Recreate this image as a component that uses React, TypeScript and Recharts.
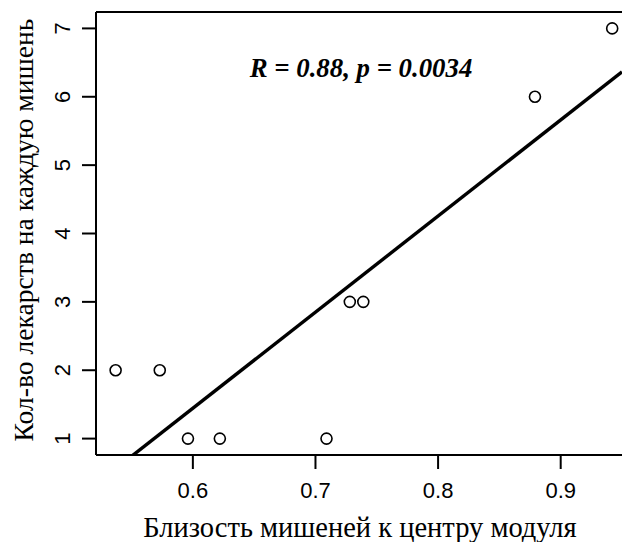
import React from "react";
import {
  ComposedChart,
  Scatter,
  Line,
  XAxis,
  YAxis,
  ReferenceLine,
  Label,
  Customized,
} from "recharts";

// Data
const closeness = [0.537, 0.573, 0.596, 0.622, 0.709, 0.728, 0.739, 0.879, 0.942];
const drugCount = [2, 2, 1, 1, 1, 3, 3, 6, 7];
const xTicks = [0.6, 0.7, 0.8, 0.9];
const yTicks = [1, 2, 3, 4, 5, 6, 7];
const statLabel = "R = 0.88, p = 0.0034";
const xTitle = "Близость мишеней к центру модуля";
const yTitle = "Кол-во лекарств на каждую мишень";

const X_DOMAIN: [number, number] = [0.521, 0.95];
const Y_DOMAIN: [number, number] = [0.76, 7.24];

const points = closeness.map((x, i) => ({ x, y: drugCount[i] }));

// least squares fit
const n = closeness.length;
const mx = closeness.reduce((a, b) => a + b, 0) / n;
const my = drugCount.reduce((a, b) => a + b, 0) / n;
let sxy = 0;
let sxx = 0;
for (let i = 0; i < n; i++) {
  sxy += (closeness[i] - mx) * (drugCount[i] - my);
  sxx += (closeness[i] - mx) * (closeness[i] - mx);
}
const slope = sxy / sxx;
const intercept = my - slope * mx;
const fitLine = X_DOMAIN.map((x) => ({ x, y: intercept + slope * x }));

const SANS = "'Liberation Sans', Arial, sans-serif";
const SERIF = "'Liberation Serif', 'Times New Roman', serif";

const XTick = (props: any) => {
  const { x, y, payload } = props;
  return (
    <text x={x} y={y + 29} textAnchor="middle" fontFamily={SANS} fontSize={22} fill="#000">
      {payload.value}
    </text>
  );
};

const YTick = (props: any) => {
  const { x, y, payload } = props;
  return (
    <text
      transform={`translate(${x - 12}, ${y}) rotate(-90)`}
      textAnchor="middle"
      fontFamily={SANS}
      fontSize={22}
      fill="#000"
    >
      {payload.value}
    </text>
  );
};

const Circle = (props: any) => {
  const { cx, cy } = props;
  return <circle cx={cx} cy={cy} r={5.5} fill="none" stroke="#000" strokeWidth={1.6} />;
};

const Annotation = (props: any) => {
  const off = props.offset || { left: 96, top: 12, width: 526, height: 443 };
  return (
    <text
      x={off.left + off.width / 2 + 2}
      y={77}
      textAnchor="middle"
      fontFamily={SERIF}
      fontStyle="italic"
      fontWeight="bold"
      fontSize={26.8}
      fill="#000"
    >
      {statLabel}
    </text>
  );
};

export default function App() {
  return (
    <div style={{ position: "absolute", left: 0, top: 0, width: 622, height: 542, background: "#fff" }}>
      <ComposedChart
        width={622}
        height={542}
        margin={{ top: 12, right: 0, left: 0, bottom: 0 }}
        style={{ background: "#fff" }}
      >
        <XAxis
          type="number"
          dataKey="x"
          domain={X_DOMAIN}
          allowDataOverflow
          ticks={xTicks}
          height={87}
          tickSize={14}
          tickMargin={0}
          axisLine={{ stroke: "#000", strokeWidth: 2 }}
          tickLine={{ stroke: "#000", strokeWidth: 2 }}
          tick={<XTick />}
        >
          <Label
            content={(p: any) => {
              const vb = p.viewBox || { x: 96, width: 526 };
              return (
                <text
                  x={vb.x + vb.width / 2 + 1}
                  y={537}
                  textAnchor="middle"
                  fontFamily={SERIF}
                  fontSize={28.5}
                  fill="#000"
                >
                  {xTitle}
                </text>
              );
            }}
          />
        </XAxis>
        <YAxis
          type="number"
          dataKey="y"
          domain={Y_DOMAIN}
          allowDataOverflow
          ticks={yTicks}
          width={96}
          tickSize={14}
          tickMargin={0}
          axisLine={{ stroke: "#000", strokeWidth: 2 }}
          tickLine={{ stroke: "#000", strokeWidth: 2 }}
          tick={<YTick />}
        >
          <Label
            content={() => (
              <text
                transform="translate(33, 230) rotate(-90)"
                textAnchor="middle"
                fontFamily={SERIF}
                fontSize={27.6}
                fill="#000"
              >
                {yTitle}
              </text>
            )}
          />
        </YAxis>
        <ReferenceLine y={Y_DOMAIN[1]} stroke="#000" strokeWidth={2} ifOverflow="visible" />
        <Line
          data={fitLine}
          dataKey="y"
          type="linear"
          stroke="#000"
          strokeWidth={3.4}
          dot={false}
          activeDot={false}
          isAnimationActive={false}
        />
        <Scatter data={points} dataKey="y" shape={<Circle />} isAnimationActive={false} />
        <Customized component={Annotation} />
      </ComposedChart>
    </div>
  );
}
